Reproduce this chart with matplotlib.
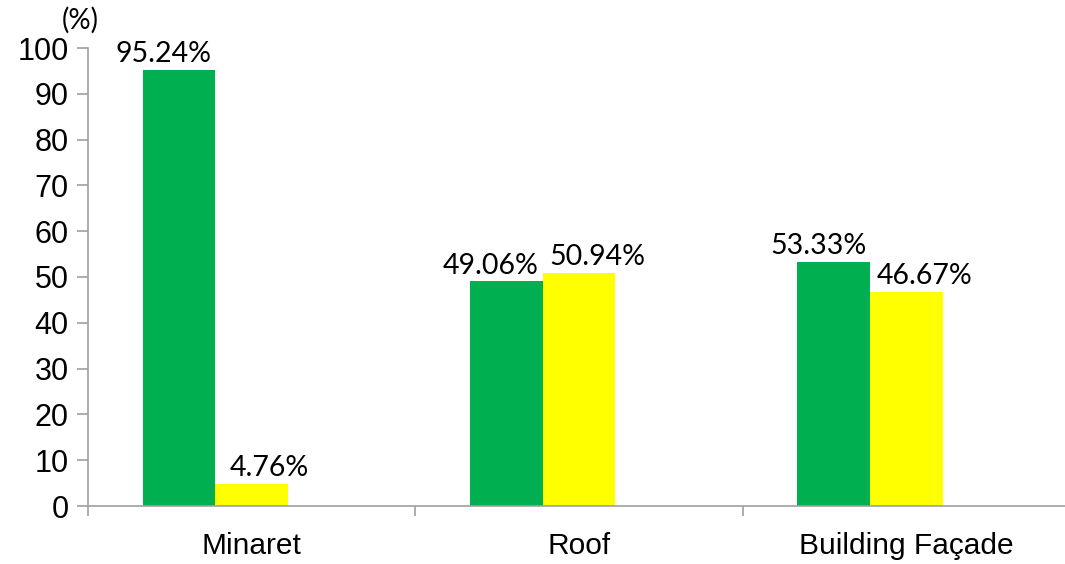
import numpy as np
import matplotlib
matplotlib.use("Agg")
import matplotlib.pyplot as plt

categories = ["Minaret", "Roof", "Building Façade"]
green_vals = [95.24, 49.06, 53.33]
yellow_vals = [4.76, 50.94, 46.67]
green_labels = ["95.24%", "49.06%", "53.33%"]
yellow_labels = ["4.76%", "50.94%", "46.67%"]
yticks = list(range(0, 101, 10))

fig = plt.figure(figsize=(10.65, 5.64), dpi=100)
ax = fig.add_axes([88 / 1065, 58 / 564, 982 / 1065, 458 / 564])

x = np.arange(len(categories))
w = 0.222
ax.bar(x - w, green_vals, width=w, color="#00B050", align="center")
ax.bar(x, yellow_vals, width=w, color="#FFFF00", align="center")

for xi, v, s in zip(x, green_vals, green_labels):
    ax.annotate(s, (xi - w, v), xytext=(-11, 2), textcoords="offset points",
                ha="center", va="bottom", fontsize=20.5, family="Lato")
for xi, v, s in zip(x, yellow_vals, yellow_labels):
    ax.annotate(s, (xi, v), xytext=(13, 2), textcoords="offset points",
                ha="center", va="bottom", fontsize=20.5, family="Lato")

ax.set_xlim(-0.5, 2.5)
ax.set_ylim(0, 100)
ax.set_yticks(yticks)
ax.set_yticklabels([str(t) for t in yticks], fontsize=22, family="Liberation Sans")
ax.set_xticks(x)
ax.set_xticklabels(categories, fontsize=21.5, family="Liberation Sans")
ax.set_xticks([-0.5, 0.5, 1.5, 2.5], minor=True)
ax.tick_params(axis="x", which="major", length=0, pad=19)
ax.tick_params(axis="x", which="minor", length=7, color="#a0a0a0", width=1.2)
ax.tick_params(axis="y", length=8, color="#a0a0a0", width=1.2, pad=6)

for side in ["top", "right"]:
    ax.spines[side].set_visible(False)
for side in ["left", "bottom"]:
    ax.spines[side].set_color("#a0a0a0")
    ax.spines[side].set_linewidth(1.2)

fig.text(80 / 1065, 1 - 20 / 564, "(%)", ha="center", va="center",
         fontsize=20, family="Lato")

fig.savefig("out.png", dpi=100)
